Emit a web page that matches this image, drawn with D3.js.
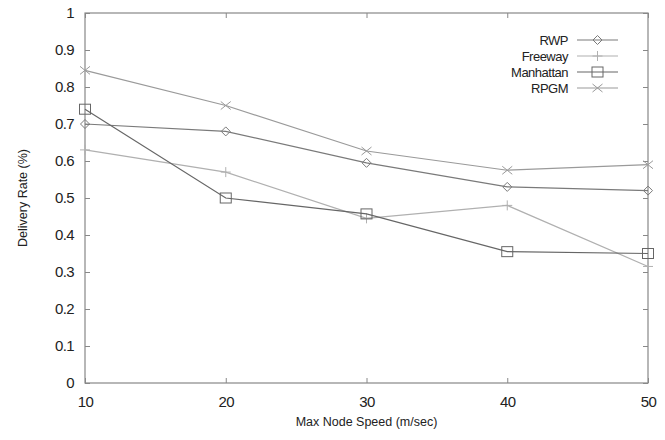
<!DOCTYPE html>
<html>
<head>
<meta charset="utf-8">
<script src="https://cdn.jsdelivr.net/npm/d3@7"></script>
<style>
  body { margin: 0; background: #fff; }
  text { font-family: "Liberation Sans", Arial, sans-serif; fill: #222; }
</style>
</head>
<body>
<svg id="chart" width="665" height="440"></svg>
<script>
var speeds = [10, 20, 30, 40, 50];
var yTicks = [0, 0.1, 0.2, 0.3, 0.4, 0.5, 0.6, 0.7, 0.8, 0.9, 1];

var rwp = [0.70, 0.68, 0.595, 0.53, 0.52];
var freeway = [0.63, 0.57, 0.445, 0.48, 0.315];
var manhattan = [0.74, 0.50, 0.457, 0.355, 0.35];
var rpgm = [0.845, 0.75, 0.627, 0.575, 0.59];

var seriesNames = ["RWP", "Freeway", "Manhattan", "RPGM"];
var seriesValues = [rwp, freeway, manhattan, rpgm];
var seriesColors = ["#7a7a7a", "#b0b0b0", "#666666", "#9a9a9a"];
var seriesMarks = ["diamond", "plus", "square", "cross"];

var plotL = 85, plotR = 648, plotT = 13, plotB = 383;

var svg = d3.select("#chart");

var x = d3.scaleLinear().domain([10, 50]).range([plotL, plotR]);
var y = d3.scaleLinear().domain([0, 1]).range([plotB, plotT]);

// frame
svg.append("rect")
  .attr("x", plotL).attr("y", plotT)
  .attr("width", plotR - plotL).attr("height", plotB - plotT)
  .attr("fill", "none").attr("stroke", "#888").attr("stroke-width", 1.2);

// axes with inward ticks (mirrored on top / right)
var fmt = d3.format("");
svg.append("g").attr("transform", "translate(0," + plotB + ")")
  .call(d3.axisBottom(x).tickValues(speeds).tickSizeInner(-5).tickSizeOuter(0).tickPadding(13))
  .call(g => g.select(".domain").remove());
svg.append("g").attr("transform", "translate(0," + plotT + ")")
  .call(d3.axisTop(x).tickValues(speeds).tickSizeInner(-5).tickSizeOuter(0).tickFormat(""))
  .call(g => g.select(".domain").remove());
svg.append("g").attr("transform", "translate(" + plotL + ",0)")
  .call(d3.axisLeft(y).tickValues(yTicks).tickSizeInner(-5).tickSizeOuter(0).tickPadding(11).tickFormat(fmt))
  .call(g => g.select(".domain").remove());
svg.append("g").attr("transform", "translate(" + plotR + ",0)")
  .call(d3.axisRight(y).tickValues(yTicks).tickSizeInner(-5).tickSizeOuter(0).tickFormat(""))
  .call(g => g.select(".domain").remove());

svg.selectAll(".tick line").attr("stroke", "#888");
svg.selectAll(".tick text")
  .attr("font-size", 15)
  .attr("font-family", "Liberation Sans, Arial, sans-serif")
  .attr("letter-spacing", -0.6)
  .attr("fill", "#222");

// axis titles
svg.append("text")
  .attr("x", (plotL + plotR) / 2).attr("y", 426)
  .attr("text-anchor", "middle").attr("font-size", 12.5)
  .text("Max Node Speed (m/sec)");
svg.append("text")
  .attr("transform", "translate(27," + (plotT + plotB) / 2 + ") rotate(-90)")
  .attr("text-anchor", "middle").attr("font-size", 12.5)
  .text("Delivery Rate (%)");

function drawMark(g, kind, cx, cy, color) {
  if (kind === "diamond") {
    g.append("path").attr("d", "M" + cx + "," + (cy - 4.5) + "L" + (cx + 4.5) + "," + cy + "L" + cx + "," + (cy + 4.5) + "L" + (cx - 4.5) + "," + cy + "Z")
      .attr("fill", "none").attr("stroke", color);
  } else if (kind === "square") {
    g.append("rect").attr("x", cx - 5.5).attr("y", cy - 5).attr("width", 11).attr("height", 10)
      .attr("fill", "none").attr("stroke", color);
  } else if (kind === "plus") {
    g.append("path").attr("d", "M" + (cx - 5) + "," + cy + "H" + (cx + 5) + "M" + cx + "," + (cy - 5) + "V" + (cy + 5))
      .attr("stroke", color);
  } else {
    g.append("path").attr("d", "M" + (cx - 5) + "," + (cy - 4) + "L" + (cx + 5) + "," + (cy + 4) + "M" + (cx - 5) + "," + (cy + 4) + "L" + (cx + 5) + "," + (cy - 4))
      .attr("stroke", color);
  }
}

var line = d3.line().x((d, i) => x(speeds[i])).y(d => y(d));

seriesValues.forEach((vals, k) => {
  var g = svg.append("g");
  g.append("path").datum(vals).attr("d", line)
    .attr("fill", "none").attr("stroke", seriesColors[k]).attr("stroke-width", 1.2);
  vals.forEach((v, i) => drawMark(g, seriesMarks[k], x(speeds[i]), y(v), seriesColors[k]));
});

// legend
var legendY = [40, 56, 72, 88];
seriesNames.forEach((name, k) => {
  var g = svg.append("g");
  g.append("text").attr("x", 568).attr("y", legendY[k]).attr("dy", "0.35em")
    .attr("text-anchor", "end").attr("font-size", 13).attr("letter-spacing", -0.5).text(name);
  g.append("line").attr("x1", 577).attr("x2", 618).attr("y1", legendY[k]).attr("y2", legendY[k])
    .attr("stroke", seriesColors[k]).attr("stroke-width", 1.2);
  drawMark(g, seriesMarks[k], 597.5, legendY[k], seriesColors[k]);
});
</script>
</body>
</html>
